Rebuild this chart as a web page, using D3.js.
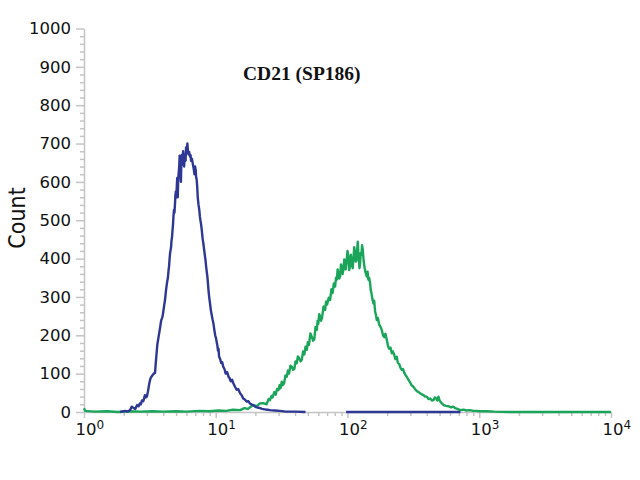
<!DOCTYPE html>
<html lang="en">
<head>
<meta charset="utf-8">
<title>CD21 (SP186)</title>
<script src="https://d3js.org/d3.v7.min.js"></script>
<style>
  body { margin: 0; background: #fff; }
  svg { display: block; }
  .axis path, .axis line { stroke: #c4c4c4; stroke-width: 1.5; }
  .axis text { font-family: "DejaVu Sans", sans-serif; fill: #111; }
</style>
</head>
<body>
<script>
// isotype control (blue) and CD21 (green) histograms: intensity vs count
let blueIntensity = [1.88, 2.05, 2.15, 2.24, 2.3, 2.35, 2.45, 2.53, 2.6, 2.65, 2.7, 2.75, 2.82, 2.9, 2.95, 3.0, 3.05, 3.08, 3.12, 3.17, 3.22, 3.3, 3.38, 3.46, 3.5, 3.55, 3.6, 3.65, 3.72, 3.78, 3.85, 3.91, 3.95, 4.0, 4.06, 4.12, 4.17, 4.22, 4.28, 4.34, 4.38, 4.42, 4.46, 4.5, 4.54, 4.58, 4.62, 4.66, 4.7, 4.74, 4.78, 4.82, 4.86, 4.9, 4.94, 4.98, 5.02, 5.06, 5.1, 5.15, 5.18, 5.22, 5.28, 5.32, 5.36, 5.4, 5.44, 5.48, 5.52, 5.56, 5.6, 5.65, 5.7, 5.75, 5.8, 5.85, 5.9, 5.95, 6.02, 6.09, 6.15, 6.2, 6.28, 6.38, 6.44, 6.5, 6.6, 6.69, 6.8, 6.9, 6.97, 7.05, 7.1, 7.17, 7.24, 7.3, 7.4, 7.5, 7.58, 7.65, 7.75, 7.83, 7.95, 8.05, 8.15, 8.29, 8.37, 8.45, 8.55, 8.64, 8.75, 8.85, 8.95, 9.05, 9.18, 9.3, 9.45, 9.59, 9.75, 9.9, 10.05, 10.2, 10.3, 10.4, 10.5, 10.6, 10.8, 11.0, 11.2, 11.4, 11.65, 11.9, 12.2, 12.5, 12.75, 13.0, 13.3, 13.6, 14.0, 14.4, 14.8, 15.3, 15.7, 16.2, 16.7, 17.2, 17.7, 18.2, 18.7, 19.3, 19.9, 20.5, 21.1, 21.7, 22.5, 23.5, 24.6, 25.8, 28, 30.7, 34, 40, 48, 55, 97.5, 720]
let blueCount = [0, 3, 1, 5, 14, 12, 8, 18, 15, 22, 20, 30, 28, 44, 38, 40, 52, 60, 72, 83, 90, 95, 100, 102, 125, 150, 175, 188, 205, 220, 238, 245, 250, 262, 278, 292, 310, 325, 340, 352, 368, 380, 398, 414, 422, 430, 448, 457, 475, 490, 512, 527, 520, 540, 565, 575, 560, 587, 610, 560, 600, 620, 640, 668, 649, 625, 600, 650, 670, 660, 645, 680, 665, 640, 660, 670, 655, 690, 685, 700, 680, 672, 678, 666, 670, 655, 660, 648, 635, 620, 640, 630, 612, 605, 585, 560, 540, 527, 510, 500, 488, 475, 452, 440, 425, 405, 395, 380, 365, 353, 330, 310, 295, 283, 265, 255, 242, 232, 215, 200, 192, 180, 172, 160, 165, 144, 138, 128, 130, 118, 112, 100, 104, 92, 88, 80, 84, 75, 66, 58, 60, 49, 44, 35, 32, 27, 28, 22, 20, 18, 14, 12, 11, 10, 8, 7, 6, 5, 4, 3, 1, 1, 0, null, 0, 0]

let greenIntensity = [1, 1.02, 1.2, 1.5, 1.8, 2.2, 2.7, 3.3, 4, 5, 6, 7.5, 9, 10.5, 12, 13.5, 15.3, 16.5, 17.5, 18.5, 19.3, 20.5, 21.5, 23, 24.3, 25.2, 25.8, 26.5, 27, 27.8, 28.5, 29.2, 29.9, 30.5, 31, 31.7, 32.3, 33, 33.8, 34.6, 35.3, 36, 36.9, 37.8, 38.6, 39.5, 40.3, 41.2, 42, 43, 44, 45, 46, 47, 48, 49.1, 50, 51, 52.3, 53.6, 54.8, 56, 57.2, 58.5, 59.3, 60, 61, 61.9, 63, 64, 65.8, 67.6, 68.8, 70, 72, 73.8, 75.5, 77, 78.8, 80.5, 81.8, 83, 84.2, 85.3, 86.6, 88, 89.2, 90.5, 91.8, 93, 94.5, 95.9, 97, 98.5, 100, 101.6, 103, 104.5, 106, 107.9, 109.5, 111, 112.5, 114.2, 115.6, 117, 118.5, 119.7, 121, 122, 123.3, 124.7, 126, 127.5, 129, 130.7, 132.5, 135, 137.5, 140.2, 142, 144, 146, 148.5, 150, 152, 154.5, 157.4, 159.5, 162, 164, 166.9, 170, 174, 178, 182.2, 186, 190, 194, 198.8, 203, 207, 212, 216.9, 221, 226, 231, 236.7, 241, 247, 252, 258.3, 264, 270, 276, 281.9, 290, 298, 306, 316.4, 325, 335, 345, 355.8, 366, 378, 388, 399.9, 412, 425, 437, 449, 460, 470, 480, 490, 500, 512, 523, 535, 560, 585, 610, 637, 655, 675, 695, 716, 760, 800, 850, 899, 950, 1000, 1150, 1300, 1700, 10000]
let greenCount = [10, 3, 1, 2, 0, 2, 1, 2, 1, 2, 1, 3, 2, 4, 3, 6, 5, 10, 8, 14, 18, 15, 22, 23, 20, 34, 31, 42, 38, 52, 45, 60, 57, 70, 62, 79, 70, 75, 95, 92, 108, 100, 121, 118, 110, 112, 132, 127, 145, 140, 132, 136, 158, 150, 170, 162, 182, 175, 205, 196, 186, 190, 222, 214, 238, 230, 255, 249, 238, 245, 275, 266, 288, 280, 298, 292, 320, 310, 335, 327, 350, 345, 372, 362, 348, 355, 385, 379, 360, 370, 398, 388, 372, 395, 420, 405, 370, 380, 410, 388, 375, 400, 430, 414, 392, 395, 425, 444, 410, 400, 375, 388, 415, 410, 435, 422, 395, 375, 362, 353, 366, 345, 350, 336, 318, 310, 295, 283, 290, 262, 255, 240, 245, 228, 222, 214, 200, 195, 204, 188, 172, 165, 168, 153, 158, 150, 138, 144, 128, 125, 116, 110, 112, 102, 96, 92, 84, 78, 70, 66, 60, 55, 52, 49, 46, 44, 40, 40, 34, 35, 30, 31, 38, 36, 30, 40, 30, 25, 22, 18, 16, 15, 12, 14, 10, 9, 7, 5, 6, 4, 5, 3, 3, 2, 2, 1, 0, 0]

let yMajor = [0, 100, 200, 300, 400, 500, 600, 700, 800, 900, 1000]
let xMajor = [1, 10, 100, 1000, 10000]
let xExponents = ["0", "1", "2", "3", "4"]

let width = 640
let height = 480
let margin = {left: 84, right: 29, top: 28.5, bottom: 68}

let svg = d3.select("body")
            .append("svg")
            .attr("width", width)
            .attr("height", height)

let x = d3.scaleLog()
          .domain([1, 10000])
          .range([margin.left, width - margin.right])

let y = d3.scaleLinear()
          .domain([0, 1000])
          .range([height - margin.bottom, margin.top])

// minor ticks first so the major ones sit on top
let yMinor = d3.range(0, 1001, 20).filter(d => d % 100 !== 0)
svg.append("g")
   .attr("class", "axis")
   .attr("transform", `translate(${margin.left},0)`)
   .call(d3.axisLeft(y).tickValues(yMinor).tickSize(4).tickFormat(""))
   .call(g => g.select(".domain").remove())

svg.append("g")
   .attr("class", "axis")
   .attr("transform", `translate(${margin.left},0)`)
   .call(d3.axisLeft(y).tickValues(yMajor).tickSize(8).tickSizeOuter(0).tickPadding(5).tickFormat(d3.format("d")))
   .call(g => g.selectAll("text").attr("font-size", 16.5))

let xMinor = []
xMajor.slice(0, -1).forEach(d => {
    for (let k = 2; k < 10; k++) xMinor.push(d * k)
})
svg.append("g")
   .attr("class", "axis")
   .attr("transform", `translate(0,${y(0)})`)
   .call(d3.axisBottom(x).tickValues(xMinor).tickSize(4).tickFormat(""))
   .call(g => g.select(".domain").remove())

let xAxis = svg.append("g")
   .attr("class", "axis")
   .attr("transform", `translate(0,${y(0)})`)
   .call(d3.axisBottom(x).tickValues(xMajor).tickSize(6).tickSizeOuter(0).tickFormat(""))

xAxis.selectAll(".tick")
     .append("text")
     .attr("x", -9)
     .attr("y", 23)
     .attr("text-anchor", "start")
     .attr("font-size", 16.5)
     .text("10")
     .append("tspan")
     .attr("dy", -6)
     .attr("font-size", 12)
     .text((d, i) => xExponents[i])

let line = d3.line()
             .defined(d => d[1] !== null)
             .x(d => x(d[0]))
             .y(d => y(d[1]))

let greenData = greenIntensity.map((v, i) => [v, greenCount[i]])
let blueData = blueIntensity.map((v, i) => [v, blueCount[i]])

svg.append("path")
   .datum(greenData)
   .attr("d", line)
   .attr("fill", "none")
   .attr("stroke", "#1ba55b")
   .attr("stroke-width", 2.4)
   .attr("stroke-linejoin", "round")

svg.append("path")
   .datum(blueData)
   .attr("d", line)
   .attr("fill", "none")
   .attr("stroke", "#2e3794")
   .attr("stroke-width", 2.4)
   .attr("stroke-linejoin", "round")

svg.append("text")
   .attr("x", 243)
   .attr("y", 80)
   .attr("font-family", "'Liberation Serif', serif")
   .attr("font-weight", "bold")
   .attr("font-size", 19.5)
   .attr("fill", "#111")
   .text("CD21 (SP186)")

svg.append("text")
   .attr("transform", "translate(25,218) rotate(-90)")
   .attr("text-anchor", "middle")
   .attr("font-family", "'DejaVu Sans', sans-serif")
   .attr("font-stretch", "condensed")
   .attr("font-size", 23)
   .attr("fill", "#111")
   .text("Count")
</script>
</body>
</html>
